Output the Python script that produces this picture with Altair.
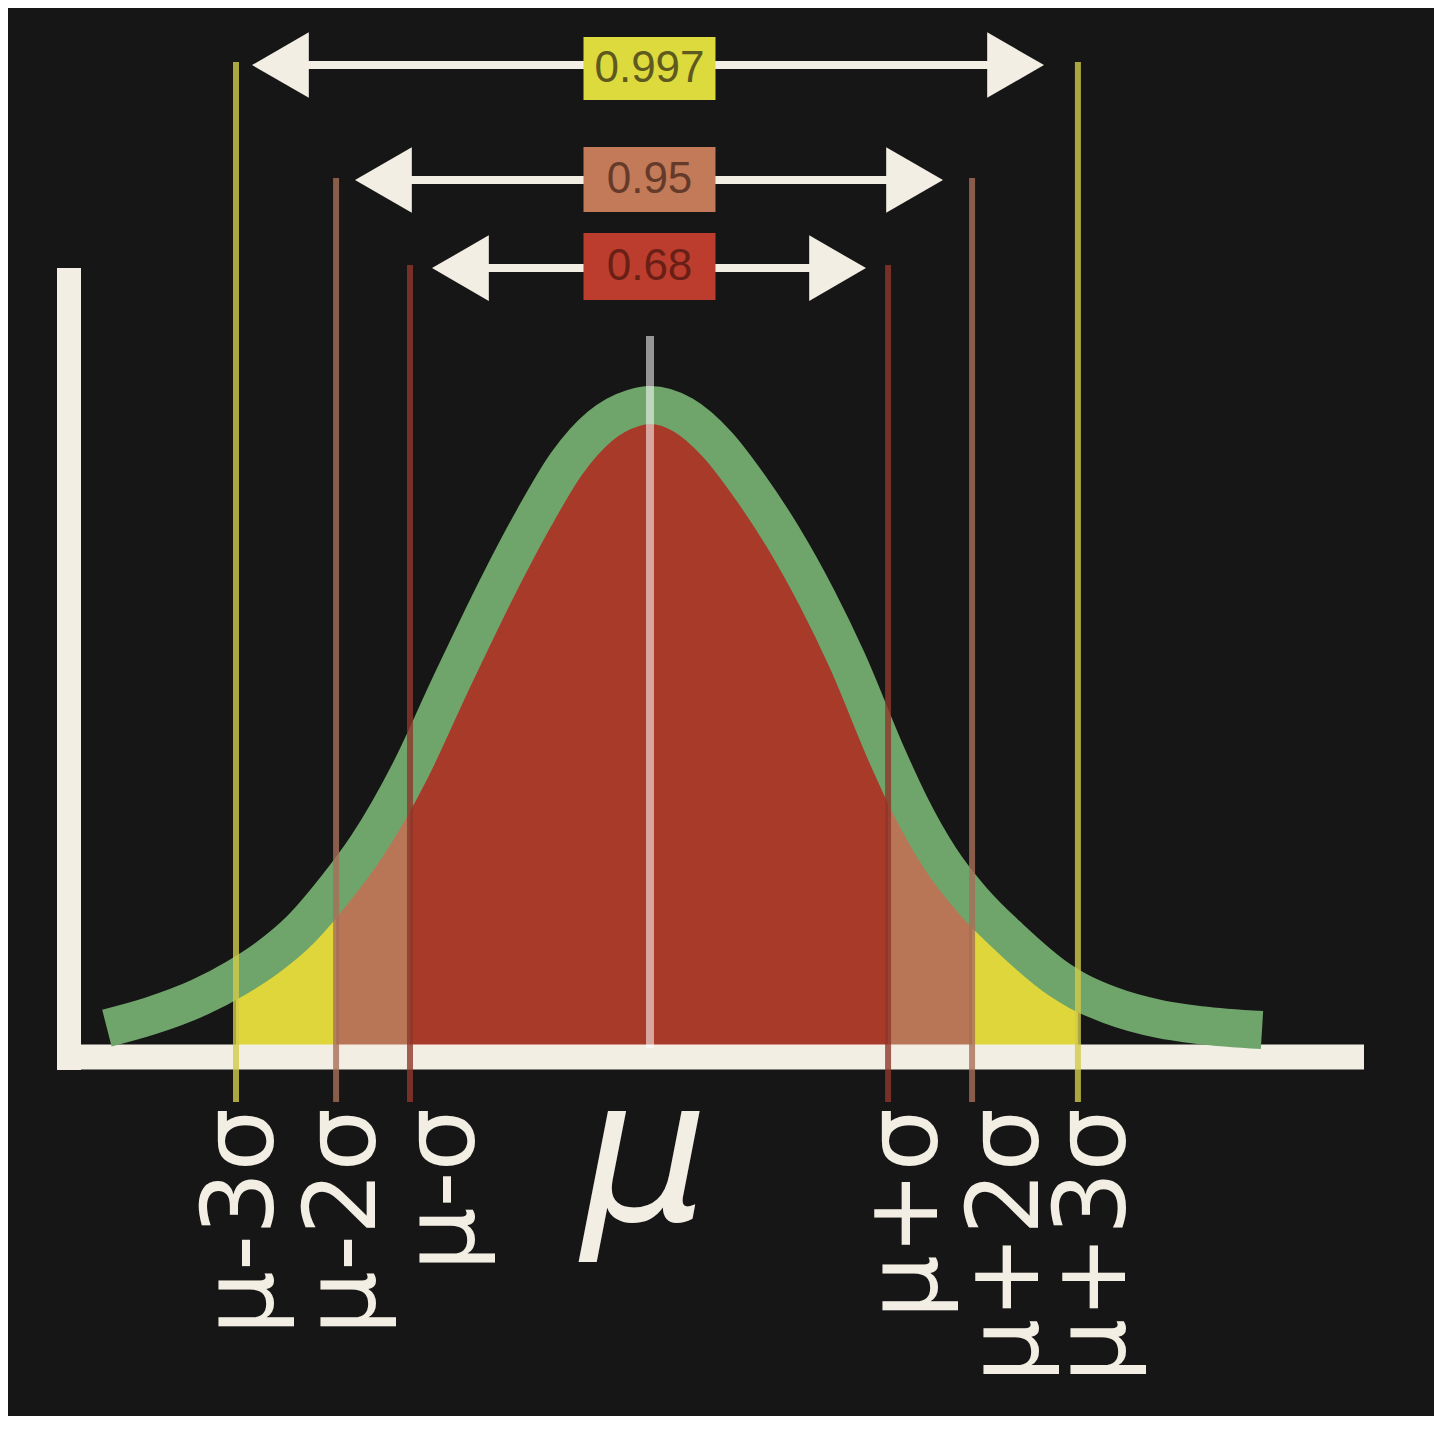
import altair as alt
import pandas as pd

# ---- values (x in drawn-sigma units, y as density) ----
curve_x = [-2.263, -2.083, -1.875, -1.725, -1.596, -1.458, -1.308, -1.179, -1.0, -0.833, -0.625,
           -0.488, -0.346, -0.208, -0.071, 0.0, 0.138, 0.279, 0.417, 0.554, 0.696, 0.821, 0.992,
           1.083, 1.208, 1.342, 1.5, 1.708, 1.783, 1.917, 2.125, 2.292, 2.55]
curve_y = [0.0124, 0.0199, 0.0317, 0.0435, 0.0560, 0.0734, 0.0995, 0.1257, 0.1723, 0.2258, 0.2899,
           0.3285, 0.3639, 0.3869, 0.3981, 0.4000, 0.3938, 0.3757, 0.3490, 0.3179, 0.2799, 0.2414,
           0.1804, 0.1512, 0.1182, 0.0921, 0.0684, 0.0423, 0.0355, 0.0267, 0.0180, 0.0143, 0.0112]

cut_names = ["μ-3σ", "μ-2σ", "μ-σ", "μ+σ", "μ+2σ", "μ+3σ"]
cut_x = [-1.725, -1.308, -1.0, 0.992, 1.342, 1.783]
cut_top = [0.6134, 0.5412, 0.4871, 0.4871, 0.5412, 0.6134]
cut_bottom = [-0.0336] * 6
cut_color = ["#d2ca48", "#a86e57", "#8e372a", "#8e372a", "#a86e57", "#d2ca48"]
label_x = [-1.6958, -1.2708, -0.8583, 1.0708, 1.4917, 1.8542]
label_top = -0.0373

band_labels = ["0.997", "0.95", "0.68"]
band_lo = [-1.725, -1.308, -1.0]
band_hi = [1.783, 1.342, 0.992]
band_fill = ["#ded63a", "#b97656", "#a83a2a"]
box_fill = ["#dcda3c", "#c27a58", "#bc3d2d"]
box_text = ["#48431a", "#553022", "#5a1a12"]
arrow_y = [0.6115, 0.54, 0.4852]
arrow_left = [-1.54, -1.1108, -0.79]
arrow_right = [1.5233, 1.1025, 0.7817]
box_left = [-0.2771] * 3
box_right = [0.2729] * 3
box_top = [0.6290, 0.5605, 0.5070]
box_bottom = [0.5897, 0.5201, 0.4653]

mu_x = -0.021
mu_baseline = -0.107
center_top = 0.4429

yaxis_x = -2.4208
yaxis_range = [-0.0137, 0.4852]
xaxis_y = -0.0056
xaxis_range = [-2.4708, 2.975]

X_DOMAIN = [-2.675, 3.2667]
Y_DOMAIN = [-0.2289, 0.6470]

CREAM = "#f2eee3"
GREEN = "#6fa46b"
BG = "#161616"

xs = alt.Scale(domain=X_DOMAIN, nice=False, zero=False)
ys = alt.Scale(domain=Y_DOMAIN, nice=False, zero=False)


def X(f):
    return alt.X(f, type="quantitative", scale=xs, axis=None)


def Y(f):
    return alt.Y(f, type="quantitative", scale=ys, axis=None)


curve = pd.DataFrame({"x": curve_x, "y": curve_y})
cuts = pd.DataFrame({"name": cut_names, "x": cut_x, "top": cut_top, "bottom": cut_bottom,
                     "color": cut_color, "lx": label_x})
bands = pd.DataFrame({"label": band_labels, "ay": arrow_y, "al": arrow_left, "ar": arrow_right,
                      "bl": box_left, "br": box_right, "bt": box_top, "bb": box_bottom,
                      "fill": box_fill, "tcol": box_text})
heads = pd.DataFrame({
    "x": arrow_left + arrow_right,
    "y": arrow_y + arrow_y,
    "shape": ["triangle-left"] * 3 + ["triangle-right"] * 3,
})
frame_v = pd.DataFrame({"x": [yaxis_x], "y": [yaxis_range[0]], "y2": [yaxis_range[1]]})
frame_h = pd.DataFrame({"x": [xaxis_range[0]], "x2": [xaxis_range[1]], "y": [xaxis_y]})
center = pd.DataFrame({"x": [0.0], "y": [0.0], "y2": [center_top]})
mu = pd.DataFrame({"x": [mu_x], "y": [mu_baseline], "t": ["μ"]})

layers = []

# shaded regions
for lo, hi, col in zip(band_lo, band_hi, band_fill):
    layers.append(
        alt.Chart(curve).transform_filter(f"datum.x >= {lo} && datum.x <= {hi}")
        .mark_area(color=col, interpolate="monotone", opacity=1)
        .encode(x=X("x"), y=Y("y"), y2=alt.datum(0))
    )

# axes frame
layers.append(alt.Chart(frame_v).mark_rule(color=CREAM, strokeWidth=24, strokeCap="butt")
              .encode(x=X("x"), y=Y("y"), y2="y2"))
layers.append(alt.Chart(frame_h).mark_rule(color=CREAM, strokeWidth=25, strokeCap="butt")
              .encode(x=X("x"), x2="x2", y=Y("y")))

# green curve
layers.append(alt.Chart(curve).mark_line(color=GREEN, strokeWidth=38, interpolate="monotone",
                                         strokeCap="butt")
              .encode(x=X("x"), y=Y("y")))

# sigma lines
layers.append(alt.Chart(cuts).mark_rule(strokeWidth=6, opacity=0.8)
              .encode(x=X("x"), y=Y("bottom"), y2="top",
                      color=alt.Color("color:N", scale=None)))

# centre line
layers.append(alt.Chart(center).mark_rule(color="#ffffff", strokeWidth=8, opacity=0.55)
              .encode(x=X("x"), y=Y("y"), y2="y2"))

# arrows
layers.append(alt.Chart(bands).mark_rule(color=CREAM, strokeWidth=8)
              .encode(x=X("al"), x2="ar", y=Y("ay")))
layers.append(alt.Chart(heads).mark_point(filled=True, size=4300, opacity=1, color=CREAM,
                                          strokeWidth=0)
              .encode(x=X("x"), y=Y("y"), shape=alt.Shape("shape:N", scale=None)))

# boxes with probabilities
layers.append(alt.Chart(bands).mark_rect()
              .encode(x=X("bl"), x2="br", y=Y("bb"), y2="bt",
                      color=alt.Color("fill:N", scale=None)))
layers.append(alt.Chart(bands)
              .transform_calculate(ty="(datum.bt + datum.bb) / 2", tx="(datum.bl + datum.br) / 2")
              .mark_text(font="Liberation Sans", fontSize=44, align="center", baseline="middle",
                         opacity=0.85)
              .encode(x=X("tx:Q"), y=Y("ty:Q"), text="label:N",
                      color=alt.Color("tcol:N", scale=None)))

# rotated sigma labels
layers.append(alt.Chart(cuts).transform_calculate(lt=str(label_top))
              .mark_text(font="DejaVu Sans", fontSize=100, angle=270,
                         align="right", baseline="middle", color=CREAM)
              .encode(x=X("lx"), y=Y("lt:Q"), text="name:N"))

# big mu
layers.append(alt.Chart(mu).mark_text(font="DejaVu Sans", fontSize=200, fontStyle="italic",
                                      align="center", baseline="alphabetic", color=CREAM)
              .encode(x=X("x"), y=Y("y"), text="t:N"))

chart = alt.layer(*layers).properties(
    width=1426, height=1408, background=BG, padding=0,
    autosize=alt.AutoSizeParams(type="none"),
).configure_view(stroke=None)

chart.save("out.html", embed_options={"renderer": "svg", "actions": False})
